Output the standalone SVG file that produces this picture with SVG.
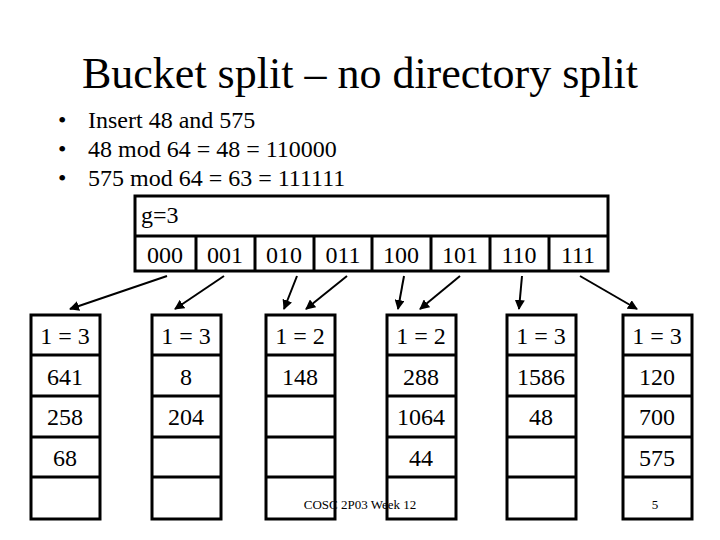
<svg xmlns="http://www.w3.org/2000/svg" width="720" height="540" viewBox="0 0 720 540">
<style>
text{font-family:"Liberation Serif",serif;fill:#000}
.b{fill:none;stroke:#000;stroke-width:3}
.c{font-size:24px;text-anchor:middle}
.a{stroke:#000;stroke-width:2;marker-end:url(#h)}
</style>
<defs><marker id="h" markerWidth="10" markerHeight="10" refX="9" refY="5" orient="auto" markerUnits="userSpaceOnUse"><path d="M0,0L10,5L0,10z"/></marker></defs>
<rect width="720" height="540" fill="#fff"/>
<text x="360" y="88" font-size="44" text-anchor="middle">Bucket split – no directory split</text>
<g font-size="24"><text x="58" y="128">•</text><text x="88" y="128">Insert 48 and 575</text>
<text x="58" y="157">•</text><text x="88" y="157">48 mod 64 = 48 = 110000</text>
<text x="58" y="186">•</text><text x="88" y="186">575 mod 64 = 63 = 111111</text></g>
<g id="directory">
<rect class="b" x="135" y="196" width="473" height="75"/>
<line class="b" x1="135" y1="236" x2="608" y2="236"/>
<path class="b" d="M196,236V271M255,236V271M314,236V271M372,236V271M431,236V271M490,236V271M549,236V271"/>
<text x="141" y="223" font-size="24">g=3</text>
<g class="c"><text x="165" y="263">000</text><text x="225" y="263">001</text><text x="284" y="263">010</text><text x="343" y="263">011</text><text x="401" y="263">100</text><text x="460" y="263">101</text><text x="519" y="263">110</text><text x="578" y="263">111</text></g>
</g>
<g id="connectors">
<line class="a" x1="167" y1="276" x2="70" y2="309"/>
<line class="a" x1="224" y1="276" x2="175" y2="309"/>
<line class="a" x1="297" y1="276" x2="284" y2="309"/>
<line class="a" x1="347" y1="276" x2="306" y2="309"/>
<line class="a" x1="404" y1="276" x2="398" y2="309"/>
<line class="a" x1="460" y1="276" x2="420" y2="309"/>
<line class="a" x1="522" y1="276" x2="519" y2="309"/>
<line class="a" x1="580" y1="276" x2="637" y2="309"/>
</g>
<g id="bucket1" transform="translate(31,0)"><rect class="b" x="0" y="315" width="69" height="204"/><path class="b" d="M0,355H69M0,396H69M0,437H69M0,477H69"/>
<g class="c"><text x="34" y="344">1 = 3</text><text x="34" y="385">641</text><text x="34" y="425">258</text><text x="34" y="466">68</text></g></g>
<g id="bucket2" transform="translate(152,0)"><rect class="b" x="0" y="315" width="69" height="204"/><path class="b" d="M0,355H69M0,396H69M0,437H69M0,477H69"/>
<g class="c"><text x="34" y="344">1 = 3</text><text x="34" y="385">8</text><text x="34" y="425">204</text></g></g>
<g id="bucket3" transform="translate(266,0)"><rect class="b" x="0" y="315" width="69" height="204"/><path class="b" d="M0,355H69M0,396H69M0,437H69M0,477H69"/>
<g class="c"><text x="34" y="344">1 = 2</text><text x="34" y="385">148</text></g></g>
<g id="bucket4" transform="translate(387,0)"><rect class="b" x="0" y="315" width="69" height="204"/><path class="b" d="M0,355H69M0,396H69M0,437H69M0,477H69"/>
<g class="c"><text x="34" y="344">1 = 2</text><text x="34" y="385">288</text><text x="34" y="425">1064</text><text x="34" y="466">44</text></g></g>
<g id="bucket5" transform="translate(507,0)"><rect class="b" x="0" y="315" width="69" height="204"/><path class="b" d="M0,355H69M0,396H69M0,437H69M0,477H69"/>
<g class="c"><text x="34" y="344">1 = 3</text><text x="34" y="385">1586</text><text x="34" y="425">48</text></g></g>
<g id="bucket6" transform="translate(623,0)"><rect class="b" x="0" y="315" width="69" height="204"/><path class="b" d="M0,355H69M0,396H69M0,437H69M0,477H69"/>
<g class="c"><text x="34" y="344">1 = 3</text><text x="34" y="385">120</text><text x="34" y="425">700</text><text x="34" y="466">575</text></g></g>
<text x="360" y="509" font-size="13" text-anchor="middle">COSC 2P03 Week 12</text>
<text x="655" y="509" font-size="13" text-anchor="middle">5</text>
</svg>
